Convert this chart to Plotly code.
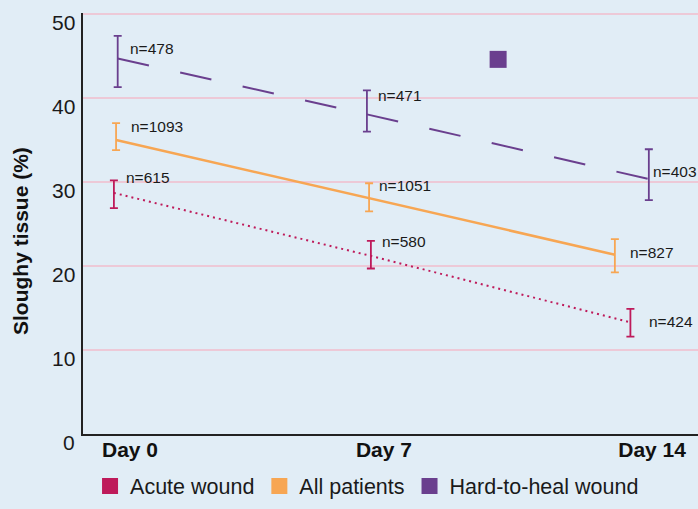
import plotly.graph_objects as go

# ---- data ----
series_names = ["Acute wound", "All patients", "Hard-to-heal wound"]
series_colors = ["#BE1A5A", "#F7A653", "#6A3F8E"]

# x positions (days) as drawn in the reference
acute_x = [-0.03, 7.08, 14.26]
all_x = [0.03, 7.03, 13.83]
hard_x = [0.075, 6.97, 14.77]

acute_mean = [28.7, 21.2, 13.3]
acute_upper = [30.2, 23.0, 14.9]
acute_lower = [26.9, 19.7, 11.6]
acute_n = ["n=615", "n=580", "n=424"]

all_mean = [35.0, 28.1, 21.35]
all_upper = [37.0, 29.85, 23.2]
all_lower = [33.8, 26.5, 19.25]
all_n = ["n=1093", "n=1051", "n=827"]

hard_mean = [44.7, 38.05, 30.35]
hard_upper = [47.4, 40.9, 33.9]
hard_lower = [41.3, 36.0, 27.85]
hard_n = ["n=478", "n=471", "n=403"]

stray_marker_x = [10.6]
stray_marker_y = [44.6]

x_tick_vals = [0.415, 7.44, 14.86]
x_tick_text = ["Day 0", "Day 7", "Day 14"]
y_tick_vals = [0, 10, 20, 30, 40, 50]
y_title = "Sloughy tissue (%)"

# label offsets in pixels (xshift, yshift)
acute_label_shift = [(10, 15), (9, 14), (17, 1)]
all_label_shift = [(13, 14), (8, 12), (13, 2)]
hard_label_shift = [(10, 10), (9, 19), (2, 8)]

FONT = "Liberation Sans, Arial, Helvetica, sans-serif"
BG = "#E1EDF6"

fig = go.Figure()

def add_errors(x, mean, upper, lower, color):
    fig.add_trace(go.Scatter(
        x=x, y=mean, mode="markers", marker=dict(size=0.1, opacity=0, color=color),
        error_y=dict(type="data", symmetric=False,
                     array=[u - m for u, m in zip(upper, mean)],
                     arrayminus=[m - l for m, l in zip(mean, lower)],
                     color=color, thickness=1.8, width=4),
        showlegend=False, hoverinfo="skip"))

def add_line(x, mean, color, dash, width, per_segment=False):
    if per_segment:
        # each segment drawn on its own so the dash pattern restarts at each point
        for i in range(len(x) - 1):
            fig.add_trace(go.Scatter(
                x=x[i:i + 2], y=mean[i:i + 2], mode="lines",
                line=dict(color=color, width=width, dash=dash),
                showlegend=False, hoverinfo="skip"))
    else:
        fig.add_trace(go.Scatter(
            x=x, y=mean, mode="lines",
            line=dict(color=color, width=width, dash=dash),
            showlegend=False, hoverinfo="skip"))

add_line(hard_x, hard_mean, series_colors[2], "32px,32px", 2, per_segment=True)
add_errors(hard_x, hard_mean, hard_upper, hard_lower, series_colors[2])
add_line(all_x, all_mean, series_colors[1], "solid", 2.5)
add_errors(all_x, all_mean, all_upper, all_lower, series_colors[1])
add_line(acute_x, acute_mean, series_colors[0], "2px,4px", 2)
add_errors(acute_x, acute_mean, acute_upper, acute_lower, series_colors[0])

# stray square marker seen in the reference
fig.add_trace(go.Scatter(x=stray_marker_x, y=stray_marker_y, mode="markers",
                         marker=dict(symbol="square", size=17, color=series_colors[2]),
                         showlegend=False, hoverinfo="skip"))

# legend entries
for name, color in zip(series_names, series_colors):
    fig.add_trace(go.Scatter(x=[None], y=[None], mode="markers", name=name,
                             marker=dict(symbol="square", size=16, color=color)))

# n labels
for xs, ys, labels, shifts in [(acute_x, acute_mean, acute_n, acute_label_shift),
                                (all_x, all_mean, all_n, all_label_shift),
                                (hard_x, hard_mean, hard_n, hard_label_shift)]:
    for xv, yv, lab, (dx, dy) in zip(xs, ys, labels, shifts):
        fig.add_annotation(x=xv, y=yv, text=lab, showarrow=False,
                           xanchor="left", yanchor="middle",
                           xshift=dx, yshift=dy,
                           font=dict(family=FONT, size=15.5, color="#1a1a1a"))

# y tick labels (sit slightly below their gridlines, as in the reference)
for v in y_tick_vals:
    fig.add_annotation(x=0, xref="paper", y=v, yref="y", text=str(v),
                       showarrow=False, xanchor="right", yanchor="middle",
                       xshift=-6, yshift=-8,
                       font=dict(family=FONT, size=21, color="#1a1a1a"))

# y axis title
fig.add_annotation(x=0, xref="paper", y=0.4584, yref="paper", text=y_title,
                   showarrow=False, textangle=-90, xanchor="center", yanchor="middle",
                   xshift=-63,
                   font=dict(family=FONT, size=21, color="#111111", weight="bold"))

fig.update_layout(
    width=698, height=509,
    paper_bgcolor=BG, plot_bgcolor=BG,
    margin=dict(l=83, r=0, t=13, b=75),
    font=dict(family=FONT, color="#1a1a1a"),
    legend=dict(orientation="h", xref="container", yref="container",
                x=0.129, y=0.045, xanchor="left", yanchor="middle",
                font=dict(family=FONT, size=21.5, color="#1a1a1a"),
                bgcolor="rgba(0,0,0,0)", itemclick=False),
    xaxis=dict(range=[-0.885, 16.13], tickvals=x_tick_vals, ticktext=x_tick_text,
               showgrid=False, zeroline=False, showline=True, linecolor="#222222",
               linewidth=1.5, ticks="", ticklabelstandoff=-4,
               tickfont=dict(family=FONT, size=21, color="#111111", weight="bold")),
    yaxis=dict(range=[0, 50.12], tickvals=y_tick_vals, showticklabels=False,
               showgrid=True, gridcolor="#EDC9D7", gridwidth=1.5,
               zeroline=False, showline=True, linecolor="#222222", linewidth=1.5,
               ticks=""),
)

fig.write_html("out.html", config={"displayModeBar": False},
               post_script="document.body.style.margin='0';document.body.style.padding='0';")
